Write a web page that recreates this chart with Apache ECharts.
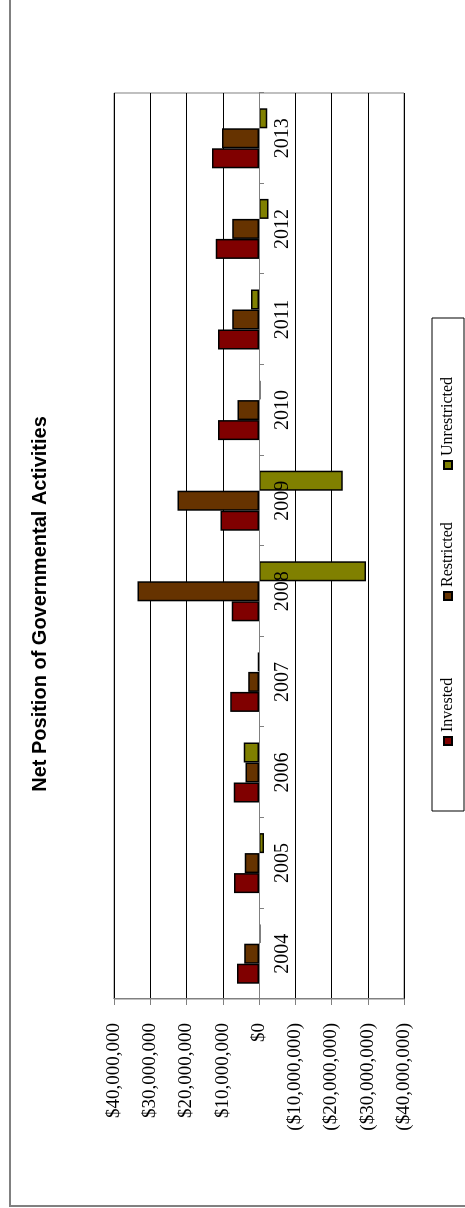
<!DOCTYPE html>
<html>
<head>
<meta charset="utf-8">
<script src="https://cdn.jsdelivr.net/npm/echarts@6/dist/echarts.min.js"></script>
<style>
  html, body { margin: 0; padding: 0; background: #fff; overflow: hidden; }
  #page { position: relative; width: 465px; height: 1208px; overflow: hidden; }
  /* The chart is laid out landscape (1208 x 465) and turned a quarter turn counter-clockwise */
  #chart {
    position: absolute; left: 0; top: 0;
    width: 1208px; height: 465px;
    transform-origin: 0 0;
    transform: translate(0, 1208px) rotate(-90deg);
  }
</style>
</head>
<body>
<div id="page"><div id="chart"></div></div>
<script>
// Fiscal years
const years = ['2004', '2005', '2006', '2007', '2008', '2009', '2010', '2011', '2012', '2013'];

// Net position components, in dollars
const invested     = [6100000, 6900000, 7000000, 7900000, 7500000, 10600000, 11300000, 11300000, 11900000, 13000000];
const restricted   = [4100000, 3900000, 3700000, 3000000, 33500000, 22500000, 5900000, 7400000, 7400000, 10200000];
const unrestricted = [-400000, -1400000, 4200000, 300000, -29500000, -23100000, -400000, 2200000, -2600000, -2300000];

// Value axis range
const axisMin = -40000000;
const axisMax = 40000000;
const axisStep = 10000000;

const seriesNames = ['Invested', 'Restricted', 'Unrestricted'];
const seriesColors = ['#800000', '#663300', '#808000'];

const serif = '"Liberation Serif", "Times New Roman", serif';
const sans = '"Liberation Sans", Arial, sans-serif';

function money(v) {
  if (v === 0) return '$0';
  const s = '$' + Math.abs(v).toLocaleString('en-US');
  return v < 0 ? '(' + s + ')' : s;
}

// Plot box (landscape coordinates)
const plotTop = 114, plotBottom = 61, chartH = 465;
const plotH = chartH - plotTop - plotBottom;
// Category axis sits on the zero line of the value range
const zeroOffset = -plotH * (0 - axisMin) / (axisMax - axisMin);

const chart = echarts.init(document.getElementById('chart'), null, { renderer: 'canvas', width: 1208, height: 465 });

const legendLeft = [462, 607, 738];

chart.setOption({
  animation: false,
  backgroundColor: '#fff',
  title: {
    text: 'Net Position of Governmental Activities',
    left: 'center',
    top: 30,
    padding: 0,
    textStyle: { fontFamily: sans, fontWeight: 'bold', fontSize: 20, color: '#000' }
  },
  graphic: [
    { type: 'rect', shape: { x: 2, y: 10, width: 1400, height: 600 }, style: { fill: 'none', stroke: '#808080', lineWidth: 2 }, silent: true },
    { type: 'rect', shape: { x: 397, y: 432, width: 493, height: 32 }, style: { fill: '#fff', stroke: '#000', lineWidth: 1 }, silent: true, z: -1 }
  ],
  legend: seriesNames.map((n, i) => ({
    data: [n],
    left: legendLeft[i],
    top: 440,
    padding: 0,
    itemWidth: 8,
    itemHeight: 8,
    icon: 'rect',
    selectedMode: false,
    textStyle: { fontFamily: serif, fontSize: 16, color: '#000' }
  })),
  grid: {
    left: 209, right: 93, top: plotTop, bottom: plotBottom,
    show: true, borderColor: '#808080', borderWidth: 1
  },
  xAxis: {
    type: 'category',
    data: years,
    z: 5,
    offset: zeroOffset,
    axisLine: { onZero: false, lineStyle: { color: '#808080', width: 1 } },
    axisTick: { show: true, length: 5, lineStyle: { color: '#808080' } },
    axisLabel: { fontFamily: serif, fontSize: 20, color: '#000', margin: 14 }
  },
  yAxis: {
    type: 'value',
    min: axisMin,
    max: axisMax,
    interval: axisStep,
    axisLine: { show: true, lineStyle: { color: '#808080' } },
    axisTick: { show: true, length: 6, lineStyle: { color: '#808080' } },
    splitLine: { show: true, lineStyle: { color: '#000', width: 1 } },
    axisLabel: { fontFamily: serif, fontSize: 19, color: '#000', margin: 24, formatter: money }
  },
  series: [invested, restricted, unrestricted].map((d, i) => ({
    name: seriesNames[i],
    type: 'bar',
    data: d,
    barWidth: 20,
    barGap: '0%',
    itemStyle: { color: seriesColors[i], borderColor: '#000', borderWidth: 1.5 }
  }))
});
</script>
</body>
</html>
